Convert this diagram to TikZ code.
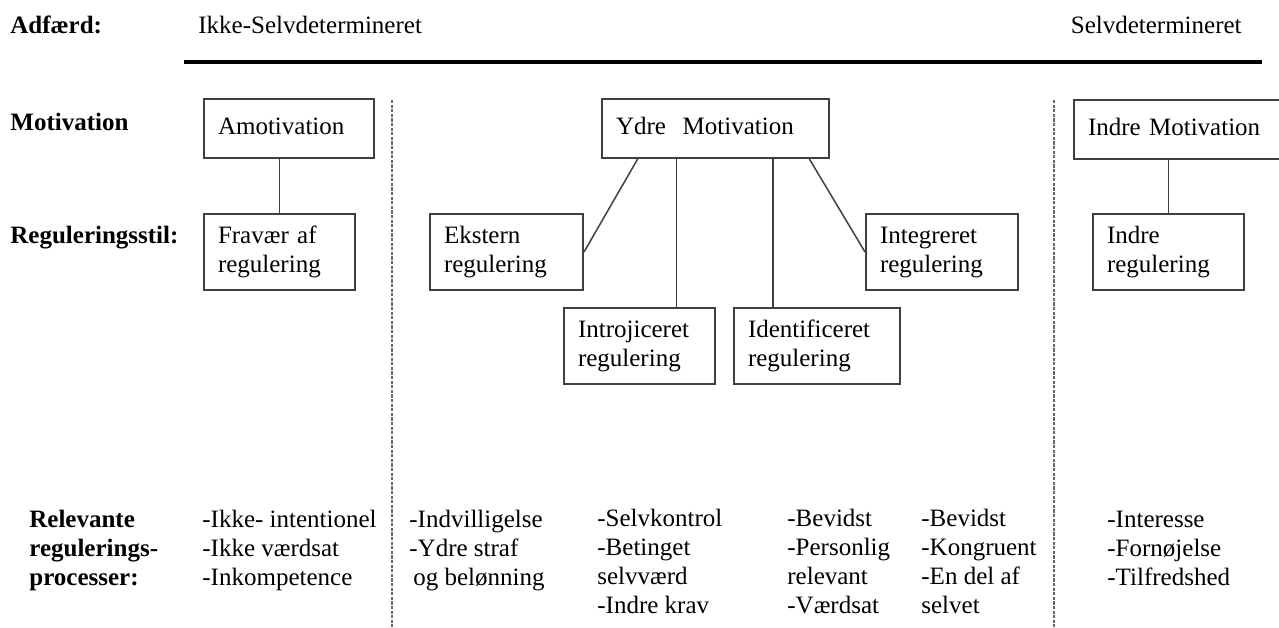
\documentclass[tikz,border=0pt]{standalone}
\usepackage{fontspec}
\setmainfont{Liberation Serif}
\usetikzlibrary{positioning,calc}

\begin{document}
\begin{tikzpicture}[x=0.5pt, y=-0.5pt,
  every node/.style={font=\fontsize{12.5}{14.4}\selectfont, inner sep=0pt},
  lbl/.style={anchor=base west, align=left, font=\fontsize{12.5}{14.4}\selectfont\bfseries},
  txt/.style={anchor=base west, align=left},
  box/.style={draw=black!75, line width=1pt, anchor=north west, align=left,
    inner xsep=7pt, text width=#1, execute at begin node=\strut, execute at end node=\strut},
  top/.style={minimum height=29.5pt},
  low/.style={minimum height=38pt},
  link/.style={draw=black!75, line width=0.75pt},
  sep/.style={draw=black!60, line width=1.1pt, dash pattern=on 1.6pt off 0.7pt}]
  \useasboundingbox (0,0) rectangle (1279,627);

  % Row labels (multi-line nodes sit on their last line)
  \node[lbl] (adf) at (10,33) {Adfærd:};
  \node[lbl] (mot) at (10,130) {Motivation};
  \node[lbl] (reg) at (10,243) {Reguleringsstil:};
  \node[lbl] (rel) at (29,585) {Relevante\\regulerings-\\processer:};

  % Scale
  \node[txt] (ikke) at (198,33) {Ikke-Selvdetermineret};
  \node[txt, anchor=base east] (selv) at (1242,33) {Selvdetermineret};
  \draw[line width=2pt] (184,62) -- (1262,62);

  % Separators
  \draw[sep] (392,100) -- (392,627);
  \draw[sep] (1054,100) -- (1054,627);

  % Motivation
  \node[box=71pt, top] (amot) at (203,98) {Amotivation};
  \node[box=99.5pt, top] (ydre) at (601,98) {Ydre\ \ Motivation};
  \node[box=99.5pt, top] (indreM) at (1073,99) {Indre Motivation};

  % Reguleringsstil
  \node[box=61.5pt, low] (frav) at (203,213) {Fravær af\\regulering};
  \node[box=62.5pt, low] (ekst) at (429,213) {Ekstern\\regulering};
  \node[box=61.5pt, low] (intro) at (563,307) {Introjiceret\\regulering};
  \node[box=69pt, low] (ident) at (733,307) {Identificeret\\regulering};
  \node[box=62pt, low] (integ) at (865,213) {Integreret\\regulering};
  \node[box=61.5pt, low] (indreR) at (1092,213) {Indre\\regulering};

  % Links
  \draw[link] (amot.south -| frav.north) -- (frav.north);
  \draw[link] ($(ydre.south west)!0.16!(ydre.south east)$) -- (ekst.east);
  \coordinate (yi) at ($(ydre.south west)!0.33!(ydre.south east)$);
  \coordinate (yd) at ($(ydre.south west)!0.75!(ydre.south east)$);
  \draw[link] (yi) -- (yi |- intro.north);
  \draw[link] (yd) -- (yd |- ident.north);
  \draw[link] ($(ydre.south west)!0.91!(ydre.south east)$) -- (integ.west);
  \draw[link] (indreR.north |- indreM.south) -- (indreR.north);

  % Processer
  \foreach \n/\x/\y/\t in {pamot/202/585/{-Ikke- intentionel\\-Ikke værdsat\\-Inkompetence},
      pekst/409/585/{-Indvilligelse\\-Ydre straf\\\hspace*{2pt}og belønning},
      pintro/597/613/{-Selvkontrol\\-Betinget\\selvværd\\-Indre krav},
      pident/787/613/{-Bevidst\\-Personlig\\relevant\\-Værdsat},
      pinteg/921/613/{-Bevidst\\-Kongruent\\-En del af\\selvet},
      pindre/1107/585/{-Interesse\\-Fornøjelse\\-Tilfredshed}}{
    \node[txt] (\n) at (\x,\y) {\t};
  }
\end{tikzpicture}
\end{document}
